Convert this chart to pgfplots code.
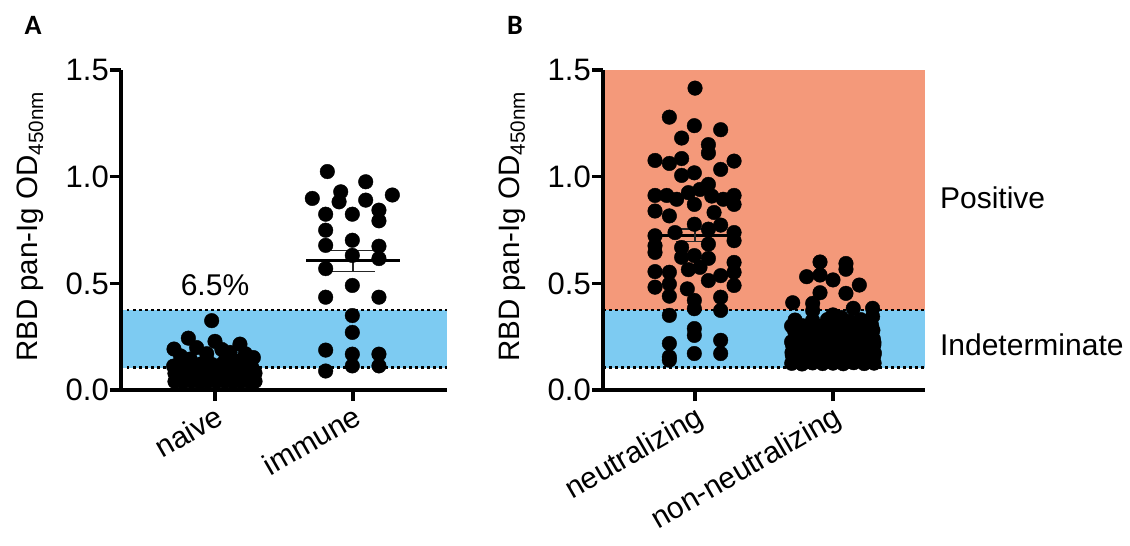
\documentclass[border=0pt]{standalone}
\usepackage{pgfplots}
\pgfplotsset{compat=1.18}
\usepackage{fontspec}
\setmainfont{Liberation Sans}
\newfontfamily\panelfont{Carlito}
\definecolor{bandblue}{RGB}{125,203,242}
\definecolor{posorange}{RGB}{244,153,122}

\pgfplotsset{
  dotplot/.style={
    scale only axis, height=320pt,
    ymin=0, ymax=1.5, clip=false, axis on top,
    axis x line=bottom, axis y line=left,
    axis line style={-, line width=3.5pt},
    every outer x axis line/.append style={-},
    every outer y axis line/.append style={-},
    ytick={0,0.5,1,1.5}, yticklabels={0.0,0.5,1.0,1.5},
    xtick={0,1},
    tick align=outside, major tick length=11pt,
    tick style={line width=3.5pt, black},
    tick label style={font=\fontsize{31}{36}\selectfont},
    yticklabel style={inner sep=1pt},
    xticklabel style={rotate=30, anchor=north east, inner sep=2pt, font=\fontsize{30}{36}\selectfont},
    label style={font=\fontsize{29.5}{34}\selectfont},
    ylabel={RBD pan-Ig OD\textsubscript{450nm}},
  },
  dots/.style={only marks, mark=*, mark size=7.3pt, black},
  band/.style={fill=#1, draw=none},
  cut/.style={black, line width=2.5pt, dash pattern=on 2.5pt off 3.5pt},
  meanline/.style={black, line width=3pt},
  semline/.style={black!85, line width=1.4pt},
}

\begin{document}
\begin{tikzpicture}[x=1pt,y=1pt]
\path[use as bounding box] (0,0) rectangle (1130,546);

% panel A
\begin{axis}[dotplot, at={(121pt,156pt)}, anchor=south west, width=326pt,
  xmin=-0.681, xmax=1.681, xticklabels={naive,immune},
  ylabel style={at={(axis description cs:-0.279,0.51)}, anchor=center}]
\addplot[band=bandblue] coordinates {(-0.681,0.105) (1.681,0.105) (1.681,0.375) (-0.681,0.375)} -- cycle;
\addplot[cut] coordinates {(-0.681,0.105) (1.681,0.105)};
\addplot[cut] coordinates {(-0.681,0.375) (1.681,0.375)};
% naive
\addplot[dots] coordinates {
(-0.29,0.040) (-0.23,0.038) (-0.17,0.041) (-0.11,0.037) (-0.05,0.040) (0.01,0.039) (0.07,0.041) (0.13,0.038) (0.19,0.040) (0.25,0.039) (0.29,0.041)
(-0.26,0.058) (-0.20,0.061) (-0.14,0.057) (-0.08,0.060) (-0.02,0.059) (0.04,0.061) (0.10,0.058) (0.16,0.060) (0.22,0.057) (0.28,0.060)
(-0.29,0.078) (-0.23,0.081) (-0.17,0.077) (-0.11,0.080) (-0.05,0.079) (0.01,0.081) (0.07,0.078) (0.13,0.080) (0.19,0.077) (0.25,0.081) (0.29,0.079)
(-0.27,0.099) (-0.21,0.097) (-0.15,0.101) (-0.09,0.098) (-0.03,0.100) (0.03,0.097) (0.09,0.101) (0.15,0.099) (0.21,0.098) (0.27,0.100)
(-0.30,0.112) (-0.24,0.120) (-0.17,0.118) (-0.10,0.122) (-0.02,0.119) (0.05,0.121) (0.12,0.117) (0.19,0.122) (0.26,0.119)
(-0.18,0.145) (-0.06,0.140) (0.08,0.150) (0.17,0.135) (-0.23,0.135) (0.25,0.140)
(-0.024,0.325) (-0.193,0.243) (0.00,0.228) (0.181,0.215) (-0.297,0.192) (-0.133,0.199)
(0.278,0.152) (0.109,0.176) (0.05,0.190) (-0.06,0.170) (0.22,0.170) (-0.25,0.160)
};
% immune
\addplot[dots] coordinates {
(0.814,1.024) (1.092,0.976) (0.911,0.929) (0.705,0.898) (1.285,0.914) (0.899,0.882)
(1.092,0.890) (0.995,0.824) (1.188,0.843) (0.802,0.824) (0.802,0.749) (1.188,0.793)
(0.802,0.678) (0.995,0.702) (1.188,0.674) (0.995,0.631) (1.188,0.616) (0.802,0.569)
(0.995,0.490) (0.802,0.435) (1.188,0.435) (0.995,0.349) (0.995,0.270) (0.802,0.187)
(0.995,0.168) (1.188,0.168) (0.802,0.089) (0.995,0.113) (1.188,0.113)
};
\addplot[meanline] coordinates {(0.66,0.605) (1.34,0.605)};
\addplot[semline] coordinates {(0.84,0.655) (1.16,0.655)};
\addplot[semline] coordinates {(0.84,0.555) (1.16,0.555)};
\addplot[semline] coordinates {(1,0.555) (1,0.655)};
\node[font=\fontsize{30}{36}\selectfont] at (axis cs:0,0.49) {6.5\%};
\end{axis}

% panel B
\begin{axis}[dotplot, at={(603pt,156pt)}, anchor=south west, width=322pt,
  xmin=-0.667, xmax=1.667, xticklabels={neutralizing,non-neutralizing},
  ylabel style={at={(axis description cs:-0.283,0.51)}, anchor=center}]
\addplot[band=posorange] coordinates {(-0.667,0.375) (1.667,0.375) (1.667,1.5) (-0.667,1.5)} -- cycle;
\addplot[band=bandblue] coordinates {(-0.667,0.105) (1.667,0.105) (1.667,0.375) (-0.667,0.375)} -- cycle;
\addplot[cut] coordinates {(-0.667,0.105) (1.667,0.105)};
\addplot[cut] coordinates {(-0.667,0.375) (1.667,0.375)};
% neutralizing
\addplot[dots] coordinates {
(0.000,1.415) (-0.186,1.279) (-0.005,1.239) (0.186,1.220) (-0.097,1.181) (0.097,1.150)
(0.097,1.111) (-0.290,1.076) (-0.186,1.062) (-0.097,1.085) (0.283,1.073) (-0.005,1.018)
(-0.097,1.006) (0.186,1.034) (0.097,0.964) (-0.290,0.912) (-0.205,0.912) (-0.133,0.894)
(-0.048,0.925) (0.036,0.940) (0.121,0.909) (0.205,0.894) (0.283,0.912) (0.283,0.870)
(-0.005,0.870) (-0.290,0.839) (-0.186,0.816) (0.138,0.832) (-0.005,0.777) (0.186,0.773)
(0.097,0.754) (-0.290,0.723) (-0.145,0.738) (0.283,0.738) (0.283,0.700) (-0.290,0.676)
(-0.097,0.668) (0.097,0.684) (-0.290,0.645) (-0.097,0.622) (0.097,0.617) (-0.005,0.630)
(0.283,0.598) (-0.290,0.555) (-0.186,0.552) (-0.048,0.564) (0.036,0.575) (0.186,0.536)
(0.283,0.552) (-0.290,0.482) (-0.186,0.497) (-0.056,0.474) (0.097,0.513) (0.283,0.490)
(-0.186,0.440) (-0.005,0.420) (0.186,0.435) (-0.005,0.381) (0.186,0.373) (-0.186,0.350)
(-0.005,0.288) (-0.005,0.256) (-0.186,0.218) (0.186,0.233) (-0.186,0.155) (-0.005,0.171)
(0.186,0.171) (-0.186,0.140)
};
% non-neutralizing
\addplot[dots] coordinates {
(0.906,0.600) (1.094,0.593) (1.094,0.566) (0.809,0.531) (0.906,0.539) (1.000,0.516)
(1.191,0.492) (0.906,0.456) (1.094,0.453) (0.708,0.409) (0.853,0.406) (1.147,0.383)
(1.287,0.383) (1.287,0.344) (1.000,0.352) (0.725,0.328) (0.853,0.372) (0.960,0.330) (1.060,0.340) (1.200,0.330)
(0.701,0.125) (0.776,0.122) (0.852,0.127) (0.925,0.124) (1.000,0.126) (1.074,0.123) (1.150,0.128) (1.226,0.124) (1.298,0.126)
(0.742,0.150) (0.812,0.148) (0.888,0.152) (0.962,0.149) (1.041,0.151) (1.108,0.147) (1.190,0.153) (1.262,0.150)
(0.703,0.176) (0.774,0.173) (0.851,0.178) (0.926,0.174) (1.002,0.177) (1.076,0.172) (1.148,0.176) (1.224,0.175) (1.300,0.173)
(0.740,0.201) (0.812,0.198) (0.891,0.203) (0.958,0.199) (1.042,0.202) (1.111,0.197) (1.188,0.201) (1.259,0.200)
(0.700,0.226) (0.781,0.223) (0.862,0.228) (0.938,0.224) (1.021,0.227) (1.102,0.222) (1.181,0.226) (1.262,0.225) (1.297,0.223)
(0.742,0.251) (0.830,0.248) (0.921,0.253) (1.000,0.249) (1.081,0.252) (1.162,0.247) (1.240,0.251)
(0.722,0.276) (0.822,0.273) (0.941,0.278) (1.052,0.274) (1.141,0.277) (1.239,0.272) (1.289,0.280)
(0.781,0.301) (0.898,0.298) (1.030,0.303) (1.170,0.299) (1.280,0.302)
(0.852,0.326) (1.121,0.322) (1.251,0.318)
(0.738,0.138) (0.815,0.136) (0.890,0.140) (0.963,0.137) (1.038,0.139) (1.112,0.135) (1.188,0.141) (1.262,0.138)
(0.705,0.163) (0.779,0.161) (0.855,0.165) (0.929,0.162) (1.004,0.164) (1.079,0.160) (1.153,0.165) (1.229,0.162) (1.296,0.161)
(0.738,0.188) (0.815,0.186) (0.890,0.190) (0.963,0.187) (1.038,0.189) (1.112,0.185) (1.188,0.190) (1.262,0.187)
(0.706,0.213) (0.779,0.211) (0.855,0.215) (0.929,0.212) (1.004,0.214) (1.079,0.210) (1.153,0.215) (1.229,0.212) (1.296,0.211)
(0.760,0.238) (0.860,0.236) (0.960,0.240) (1.040,0.237) (1.130,0.239) (1.210,0.235) (1.292,0.240)
(0.770,0.262) (0.880,0.260) (0.990,0.265) (1.100,0.261) (1.200,0.263)
(0.700,0.300) (0.960,0.315) (1.090,0.300)
};
\addplot[meanline] coordinates {(-0.29,0.725) (0.30,0.725)};
\addplot[semline] coordinates {(-0.14,0.755) (0.14,0.755)};
\addplot[semline] coordinates {(-0.14,0.695) (0.14,0.695)};
\addplot[semline] coordinates {(0,0.695) (0,0.755)};
\node[font=\fontsize{30}{36}\selectfont, anchor=west, inner sep=0pt] at (axis cs:1.775,0.90) {Positive};
\node[font=\fontsize{30}{36}\selectfont, anchor=west, inner sep=0pt] at (axis cs:1.775,0.21) {Indeterminate};
\end{axis}

\node[font=\panelfont\bfseries\fontsize{28}{32}\selectfont] at (33,521) {A};
\node[font=\panelfont\bfseries\fontsize{28}{32}\selectfont] at (515,521) {B};
\end{tikzpicture}
\end{document}
